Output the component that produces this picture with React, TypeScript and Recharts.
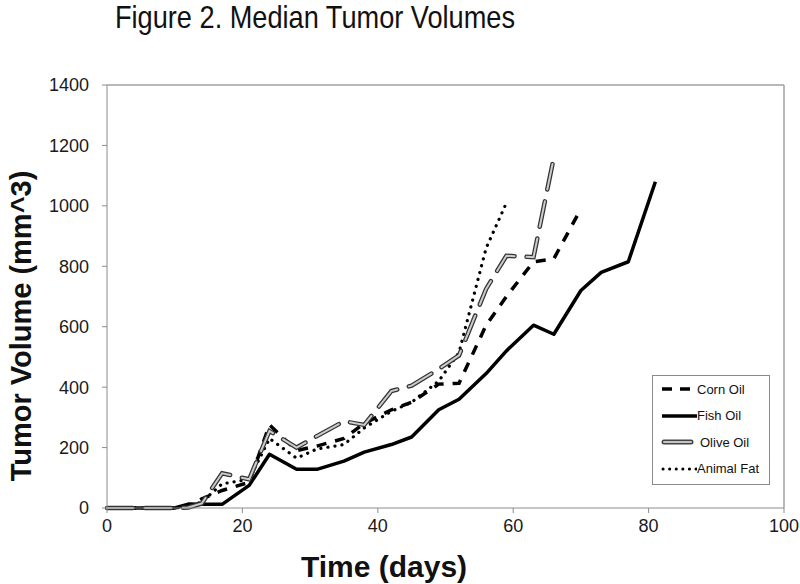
import React from 'react';
import { LineChart, Line, XAxis, YAxis, ReferenceLine } from 'recharts';

const days = [0, 3, 7, 10, 12, 14, 17, 21, 24, 28, 31, 35, 38, 42, 45, 49, 52, 56, 59, 63, 66, 70, 73, 77, 81];

const cornOil = [0, 0, 0, 0, 5, 30, 58, 85, 275, 190, 205, 230, 280, 325, 350, 410, 413, 605, 700, 815, 825, 990, null, null, null];
const fishOil = [0, 0, 0, 0, 13, 12, 12, 75, 178, 128, 128, 155, 185, 210, 235, 325, 360, 445, 520, 605, 575, 720, 780, 815, 1080];
const oliveOil = [0, 0, 0, 0, 2, 15, 115, 95, 255, 200, 238, 287, 275, 387, 405, 460, 505, 725, 835, 830, 1160, null, null, null, null];
const animalFat = [0, 0, 0, 0, 5, 20, 80, 95, 230, 165, 195, 210, 265, 320, 350, 420, 515, 860, 1010, null, null, null, null, null, null];

const xTicks = [0, 20, 40, 60, 80, 100];
const yTicks = [0, 200, 400, 600, 800, 1000, 1200, 1400];

const data = days.map((day, i) => ({
  day,
  corn: cornOil[i],
  fish: fishOil[i],
  olive: oliveOil[i],
  fat: animalFat[i],
}));

const font = 'Liberation Sans, Arial, sans-serif';

const legendRows = [
  { name: 'Corn Oil', kind: 'corn' },
  { name: 'Fish Oil', kind: 'fish' },
  { name: 'Olive Oil', kind: 'olive' },
  { name: 'Animal Fat', kind: 'fat' },
];

const LegendBox = () => (
  <div
    style={{
      position: 'absolute',
      left: 652,
      top: 375,
      width: 116,
      height: 108,
      border: '1px solid #8a8a8a',
      background: '#fff',
      fontFamily: font,
      fontSize: 13,
      color: '#111',
    }}
  >
    {legendRows.map((r, i) => (
      <div key={r.name} style={{ position: 'absolute', left: 8, top: 5 + i * 26.5, height: 16, display: 'flex', alignItems: 'center', whiteSpace: 'nowrap' }}>
        <svg width={36} height={10}>
          {r.kind === 'corn' && <line x1={1} y1={5} x2={36} y2={5} stroke="#000" strokeWidth={3.5} strokeDasharray="10 8" />}
          {r.kind === 'fish' && <line x1={1} y1={5} x2={36} y2={5} stroke="#000" strokeWidth={3.5} />}
          {r.kind === 'olive' && (
            <g>
              <line x1={3} y1={5} x2={30} y2={5} stroke="#444" strokeWidth={5} strokeLinecap="round" />
              <line x1={3} y1={5} x2={30} y2={5} stroke="#c4c4c4" strokeWidth={2} strokeLinecap="round" />
            </g>
          )}
          {r.kind === 'fat' && <line x1={2} y1={5} x2={36} y2={5} stroke="#000" strokeWidth={3} strokeDasharray="0.1 6.5" strokeLinecap="round" />}
        </svg>
        <span style={{ marginLeft: r.kind === 'olive' ? 3 : 0 }}>{r.name}</span>
      </div>
    ))}
  </div>
);

export default function App() {
  return (
    <div style={{ position: 'absolute', left: 0, top: 0, width: 800, height: 584, background: '#fff' }}>
      <LineChart width={800} height={584} data={data} margin={{ top: 85, right: 16, bottom: 46, left: 47 }}>
        <XAxis
          dataKey="day"
          type="number"
          domain={[0, 100]}
          ticks={xTicks}
          height={30}
          stroke="#8c8c8c"
          tickSize={5}
          tickMargin={6}
          tick={{ fill: '#1a1a1a', fontSize: 18, fontFamily: font }}
        />
        <YAxis
          type="number"
          domain={[0, 1400]}
          ticks={yTicks}
          width={60}
          stroke="#8c8c8c"
          tickSize={5}
          tickMargin={13}
          tick={{ fill: '#1a1a1a', fontSize: 18, fontFamily: font }}
        />
        <ReferenceLine y={1400} stroke="#a0a0a0" strokeWidth={1.5} />
        <ReferenceLine x={100} stroke="#a0a0a0" strokeWidth={1.5} />
        <Line dataKey="fish" name="Fish Oil" stroke="#000" strokeWidth={3.5} dot={false} isAnimationActive={false} strokeLinejoin="round" />
        <Line dataKey="corn" name="Corn Oil" stroke="#000" strokeWidth={3.5} strokeDasharray="10 9" dot={false} isAnimationActive={false} />
        <Line dataKey="fat" name="Animal Fat" stroke="#000" strokeWidth={3.2} strokeDasharray="0.1 7" strokeLinecap="round" dot={false} isAnimationActive={false} />
        <Line dataKey="olive" name="Olive Oil" stroke="#333" strokeWidth={4.5} strokeDasharray="26 12" strokeLinecap="round" dot={false} isAnimationActive={false} />
        <Line dataKey="olive" name="Olive Oil inner" stroke="#cccccc" strokeWidth={2} strokeDasharray="26 12" strokeLinecap="round" dot={false} isAnimationActive={false} />
      </LineChart>
      <LegendBox />
      <svg width={800} height={584} style={{ position: 'absolute', left: 0, top: 0, pointerEvents: 'none' }}>
        <text x={315} y={28} textAnchor="middle" fontFamily={font} fontSize={32} fill="#111" textLength={400} lengthAdjust="spacingAndGlyphs">
          Figure 2. Median Tumor Volumes
        </text>
        <text x={384} y={577} textAnchor="middle" fontFamily={font} fontSize={30} fontWeight="bold" fill="#111">
          Time (days)
        </text>
        <text x={0} y={0} transform="translate(31 326) rotate(-90)" textAnchor="middle" fontFamily={font} fontSize={29} fontWeight="bold" fill="#111">
          Tumor Volume (mm^3)
        </text>
      </svg>
    </div>
  );
}
